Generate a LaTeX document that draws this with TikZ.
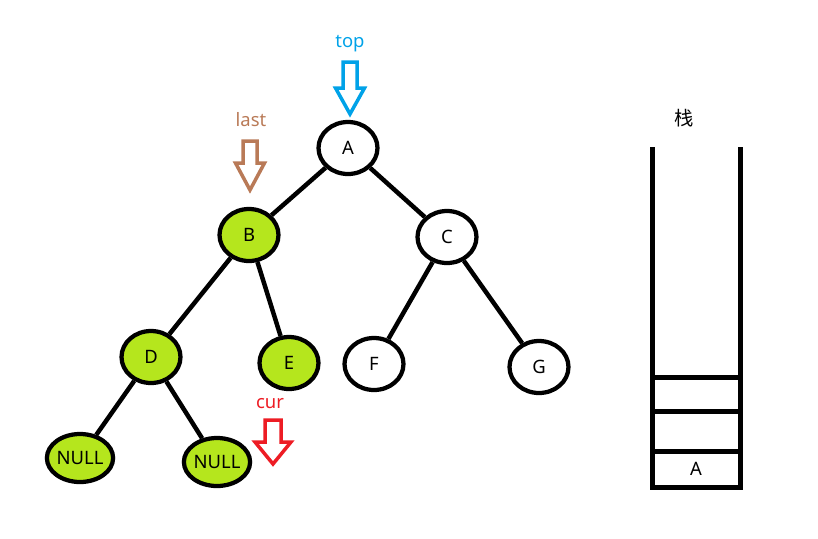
\documentclass[tikz,border=0pt]{standalone}
\usepackage{fontspec}
\setmainfont{Noto Sans}
\newfontfamily\cjk{Noto Sans CJK SC}
\usetikzlibrary{shapes.geometric, positioning}

\definecolor{leafgreen}{RGB}{181,230,29}
\definecolor{topblue}{RGB}{0,162,232}
\definecolor{lastbrown}{RGB}{185,122,87}
\definecolor{curred}{RGB}{237,28,36}

\begin{document}
\begin{tikzpicture}[x=0.02cm, y=-0.02cm, every node/.style={font=\fontsize{10.5}{12}\selectfont}]

\tikzstyle{tnode} = [ellipse, draw=black, line width=0.085cm, minimum width=1.18cm, minimum height=1.04cm, inner sep=0pt, fill=white]
\tikzstyle{visited} = [tnode, fill=leafgreen]
\tikzstyle{nullnode} = [visited, minimum width=1.3cm, minimum height=0.96cm]
\tikzstyle{edge} = [line width=0.09cm]
\tikzstyle{ptr} = [line width=0.07cm, line join=miter]
\tikzstyle{cell} = [rectangle, draw=black, line width=0.1cm, minimum width=1.76cm, inner sep=0pt, outer sep=0pt]

\useasboundingbox (0,0) rectangle (818,538);

% Tree nodes
\node (a) [tnode] at (348,148) {A};
\node (b) [visited] at (249,235) {B};
\node (c) [tnode] at (447,237) {C};
\node (d) [visited] at (151,357) {D};
\node (e) [visited] at (289,363) {E};
\node (f) [tnode] at (374,364) {F};
\node (g) [tnode] at (539,367) {G};
\node (n1) [nullnode] at (80,458) {NULL};
\node (n2) [nullnode] at (217,462) {NULL};

% Edges
\draw [edge] (a) -- (b);
\draw [edge] (a) -- (c);
\draw [edge] (b) -- (d);
\draw [edge] (b) -- (e);
\draw [edge] (c) -- (f);
\draw [edge] (c) -- (g);
\draw [edge] (d) -- (n1);
\draw [edge] (d) -- (n2);

% Pointers
\node (toplbl) [text=topblue] at (350,44) {top};
\draw [ptr, draw=topblue] (343,62) -- (357,62) -- (357,88) -- (364.5,88) -- (350,114)
  -- (335.5,88) -- (343,88) -- cycle;

\node (lastlbl) [text=lastbrown] at (251,120) {last};
\draw [ptr, draw=lastbrown] (243,141) -- (257,141) -- (257,163) -- (264.5,163) -- (250,190)
  -- (235.5,163) -- (243,163) -- cycle;

\node (curlbl) [text=curred] at (270,404) {cur};
\draw [ptr, draw=curred] (265,420) -- (281,420) -- (281,442) -- (291,442) -- (273,464)
  -- (255,442) -- (265,442) -- cycle;

% Stack
\node (stacklbl) [font=\cjk\fontsize{11}{13}\selectfont] at (684,118) {栈};
\draw [line width=0.1cm] (652,147) -- (652,487) -- (740,487) -- (740,147);
\node (s1) [cell, minimum height=0.72cm] at (696,469) {A};
\node (s2) [cell, minimum height=0.8cm, above=0pt of s1] {};
\node (s3) [cell, minimum height=0.68cm, above=0pt of s2] {};

\end{tikzpicture}
\end{document}
